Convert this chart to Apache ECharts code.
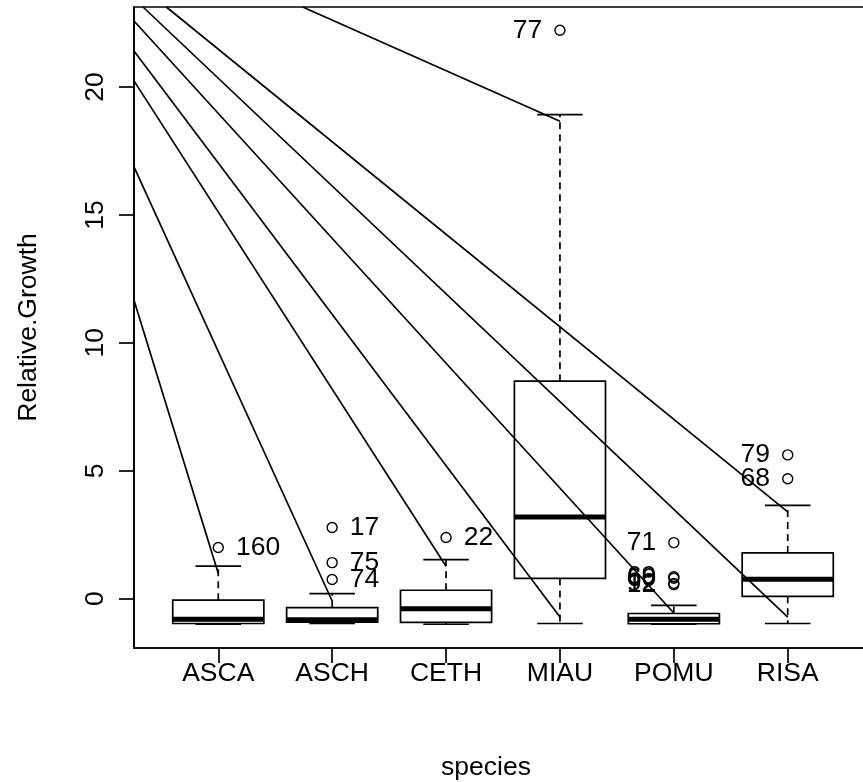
<!DOCTYPE html>
<html>
<head>
<meta charset="utf-8">
<script src="https://cdn.jsdelivr.net/npm/echarts@6/dist/echarts.min.js"></script>
<style>
  html, body { margin: 0; padding: 0; background: #fff; overflow: hidden; }
  #chart { width: 863px; height: 782px; }
</style>
</head>
<body>
<div id="chart"></div>
<script>
// ---- data ----
const categories   = ['ASCA', 'ASCH', 'CETH', 'MIAU', 'POMU', 'RISA'];
const whiskerLow   = [-1.00, -0.97, -1.00, -0.97, -1.00, -0.97];
const quartile1    = [-0.97, -0.92, -0.93,  0.79, -0.98,  0.09];
const medians      = [-0.80, -0.82, -0.39,  3.19, -0.80,  0.76];
const quartile3    = [-0.06, -0.35,  0.33,  8.50, -0.58,  1.79];
const whiskerHigh  = [ 1.27,  0.20,  1.53, 18.92, -0.26,  3.65];

// outliers: group index (0-based), value, label
const outlierGroup = [0, 1, 1, 1, 2, 3, 4, 4, 4, 4, 4, 5, 5];
const outlierValue = [2.00, 2.78, 1.41, 0.75, 2.39, 22.22, 2.19, 0.86, 0.80, 0.60, 0.55, 5.62, 4.69];
const outlierLabel = ['160', '17', '75', '74', '22', '77', '71', '69', '60', '92', '12', '79', '68'];

// straight reference lines (data coordinates): start -> end
const lineStartX = [0.26, 0.26, 0.26, 0.26, 0.26, 0.339, 0.544, 1.741];
const lineStartY = [11.67, 16.88, 20.24, 21.41, 22.58, 23.128, 23.128, 23.128];
const lineEndX   = [1, 2, 3, 4, 5, 6, 6, 4];
const lineEndY   = [0.98, -0.09, 1.27, -0.72, -0.56, -0.72, 3.39, 18.66];

const yTicks = [0, 5, 10, 15, 20];
const xTicks = [1, 2, 3, 4, 5, 6];

// axis ranges (R style 4% extension)
const xMin = 0.26, xMax = 6.74;
const yMin = -1.928, yMax = 23.128;

// ---- build ----
const FONT = "'Liberation Sans', Arial, Helvetica, sans-serif";
const FS = 26.5;
const LW = 1.7;

const boxData = categories.map((c, i) => [i + 1, whiskerLow[i], quartile1[i], medians[i], quartile3[i], whiskerHigh[i]]);

const rightPts = [], leftPts = [];
outlierGroup.forEach((g, i) => {
  const item = { value: [g + 1, outlierValue[i]], name: outlierLabel[i] };
  if (g + 1 > categories.length / 2) leftPts.push(item); else rightPts.push(item);
});

const lineSeries = lineStartX.map((x0, i) => ({
  type: 'line',
  data: [[x0, lineStartY[i]], [lineEndX[i], lineEndY[i]]],
  symbol: 'none',
  lineStyle: { color: '#000', width: LW },
  clip: true,
  z: 5,
  silent: true
}));

function outlierSeries(data, pos) {
  return {
    type: 'scatter',
    data: data,
    symbol: 'circle',
    symbolSize: 10,
    itemStyle: { color: 'rgba(0,0,0,0)', borderColor: '#000', borderWidth: 1.4, opacity: 1 },
    label: {
      show: true,
      position: pos,
      distance: 12,
      formatter: p => p.name,
      color: '#000',
      fontFamily: FONT,
      fontSize: FS
    },
    z: 4,
    silent: true
  };
}

const chart = echarts.init(document.getElementById('chart'), null, { renderer: 'canvas' });
chart.setOption({
  animation: false,
  backgroundColor: '#fff',
  grid: {
    left: 134, top: 7, width: 738, height: 641,
    outerBoundsMode: 'none',
    containLabel: false,
    show: true, borderColor: '#000', borderWidth: LW, backgroundColor: 'rgba(0,0,0,0)'
  },
  xAxis: {
    type: 'value', min: xMin, max: xMax,
    name: 'species', nameLocation: 'middle', nameGap: 106,
    nameTextStyle: { color: '#000', fontFamily: FONT, fontSize: FS, padding: [0, 34, 0, 0] },
    axisLine: { show: true, onZero: false, lineStyle: { color: '#000', width: LW } },
    axisTick: { show: true, customValues: xTicks, length: 15, lineStyle: { color: '#000', width: LW } },
    axisLabel: {
      show: true, customValues: xTicks, margin: 12,
      formatter: v => categories[Math.round(v) - 1] || '',
      color: '#000', fontFamily: FONT, fontSize: FS
    },
    splitLine: { show: false }
  },
  yAxis: {
    type: 'value', min: yMin, max: yMax,
    name: 'Relative.Growth', nameLocation: 'middle', nameGap: 92, nameRotate: 90,
    nameTextStyle: { color: '#000', fontFamily: FONT, fontSize: FS },
    axisLine: { show: true, onZero: false, lineStyle: { color: '#000', width: LW } },
    axisTick: { show: true, customValues: yTicks, length: 15, lineStyle: { color: '#000', width: LW } },
    axisLabel: {
      show: true, customValues: yTicks, margin: 25, rotate: 90,
      color: '#000', fontFamily: FONT, fontSize: FS
    },
    splitLine: { show: false }
  },
  series: [
    {
      type: 'custom',
      data: boxData,
      encode: { x: 0, y: [1, 2, 3, 4, 5] },
      z: 3,
      silent: true,
      renderItem: function (params, api) {
        const x = api.value(0);
        const lo = api.coord([x, api.value(1)]);
        const b1 = api.coord([x, api.value(2)]);
        const md = api.coord([x, api.value(3)]);
        const b3 = api.coord([x, api.value(4)]);
        const hi = api.coord([x, api.value(5)]);
        const halfBox = api.size([0.4, 0])[0];
        const halfCap = halfBox / 2;
        const cx = lo[0];
        const st = { stroke: '#000', lineWidth: LW, fill: null };
        const dash = { stroke: '#000', lineWidth: LW, lineDash: [7, 5], fill: null };
        return {
          type: 'group',
          children: [
            { type: 'line', shape: { x1: cx, y1: b3[1], x2: cx, y2: hi[1] }, style: dash },
            { type: 'line', shape: { x1: cx, y1: b1[1], x2: cx, y2: lo[1] }, style: dash },
            { type: 'line', shape: { x1: cx - halfCap, y1: hi[1], x2: cx + halfCap, y2: hi[1] }, style: st },
            { type: 'line', shape: { x1: cx - halfCap, y1: lo[1], x2: cx + halfCap, y2: lo[1] }, style: st },
            { type: 'rect', shape: { x: cx - halfBox, y: b3[1], width: 2 * halfBox, height: b1[1] - b3[1] }, style: st },
            { type: 'line', shape: { x1: cx - halfBox, y1: md[1], x2: cx + halfBox, y2: md[1] }, style: { stroke: '#000', lineWidth: 5 } }
          ]
        };
      }
    },
    outlierSeries(rightPts, 'right'),
    outlierSeries(leftPts, 'left')
  ].concat(lineSeries)
});
</script>
</body>
</html>
